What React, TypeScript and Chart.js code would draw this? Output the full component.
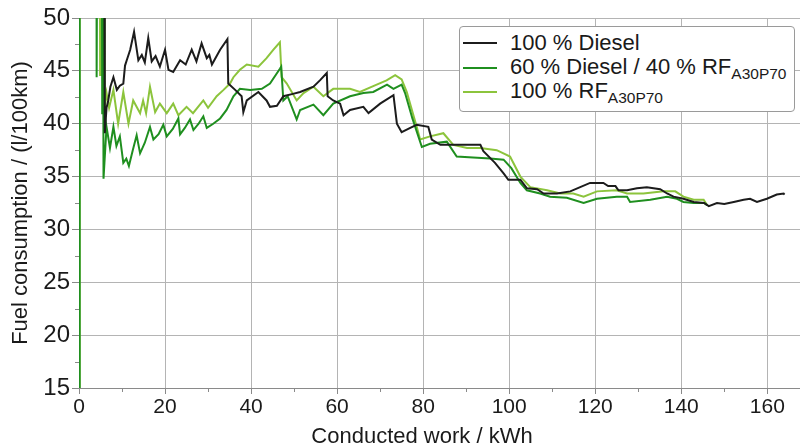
import React, { useEffect, useRef } from "react";
import { Chart, registerables } from "chart.js";
Chart.register(...registerables);

// ---- data ----
const seriesNames = ["100 % Diesel", "60 % Diesel / 40 % RF", "100 % RF"];
const seriesSubs = ["", "A30P70", "A30P70"];
const seriesColors = ["#1c1c1c", "#1f8f1f", "#8cc43c"];

const xTitle = "Conducted work / kWh";
const yTitle = "Fuel consumption / (l/100km)";
const xTicks = [0, 20, 40, 60, 80, 100, 120, 140, 160];
const xMinorTicks = [10, 30, 50, 70, 90, 110, 130, 150];
const yMinorTicks = [17.5, 22.5, 27.5, 32.5, 37.5, 42.5, 47.5];

const dieselX = [5.9, 6.0, 6.4, 6.8, 7.3, 8.0, 8.8, 9.5, 10.3, 10.7, 11.1, 11.9, 12.8, 13.8, 14.6, 15.3, 16.1, 16.9, 17.8, 18.8, 20.0, 20.8, 21.9, 23.5, 24.8, 26.2, 27.3, 28.5, 29.7, 30.3, 30.9, 32.8, 34.5, 34.7, 36.3, 37.8, 38.2, 39.0, 41.7, 43.6, 44.4, 46.0, 47.5, 49.5, 51.4, 54.5, 56.0, 57.6, 57.8, 59.1, 60.7, 61.5, 63.0, 66.1, 67.3, 70.0, 73.1, 73.9, 75.0, 77.0, 78.5, 81.2, 82.0, 84.0, 93.3, 94.0, 96.7, 98.7, 99.8, 102.6, 104.1, 106.5, 108.0, 111.1, 114.2, 116.5, 118.8, 121.9, 123.0, 124.7, 125.4, 127.4, 129.7, 132.0, 135.1, 136.7, 138.2, 140.5, 142.9, 145.3, 146.4, 148.3, 150.0, 152.2, 154.5, 156.0, 157.6, 159.9, 162.2, 163.8, 164.0];
const dieselY = [52, 39.1, 41.5, 42.2, 43.5, 44.4, 43.2, 43.6, 43.8, 45.5, 46.0, 47.0, 48.7, 46.0, 46.5, 45.8, 48.1, 45.9, 46.4, 45.4, 47.0, 45.1, 44.9, 46.0, 45.6, 47.0, 45.9, 47.6, 46.2, 46.5, 45.6, 47.0, 48.0, 43.8, 43.2, 42.6, 41.1, 42.2, 43.0, 42.2, 41.6, 41.7, 42.6, 42.8, 43.0, 43.5, 44.1, 44.8, 42.6, 42.2, 41.9, 40.8, 41.3, 41.6, 41.0, 41.9, 42.7, 40.0, 39.2, 39.6, 39.9, 39.7, 38.5, 38.0, 38.0, 37.4, 36.3, 35.3, 34.7, 34.7, 33.9, 33.8, 33.4, 33.4, 33.6, 34.0, 34.4, 34.4, 34.1, 34.1, 33.7, 33.7, 33.9, 34.0, 33.8, 33.4, 33.1, 32.9, 32.6, 32.5, 32.2, 32.5, 32.4, 32.6, 32.8, 32.9, 32.6, 32.9, 33.3, 33.4, 33.3];

const blendX = [0, 0.15, 4.0, 4.1, 4.4, 5.2, 5.4, 5.5, 5.7, 6.4, 7.2, 8.0, 8.7, 9.5, 10.3, 11.0, 11.6, 12.5, 13.4, 14.2, 15.3, 16.5, 17.3, 18.5, 19.6, 20.4, 21.8, 23.1, 23.5, 24.6, 25.8, 26.6, 27.8, 28.9, 29.7, 31.2, 32.8, 34.3, 35.9, 37.4, 39.8, 42.5, 44.4, 46.7, 47.0, 47.5, 48.5, 50.6, 51.4, 54.5, 56.8, 59.1, 63.0, 66.1, 68.4, 71.6, 73.1, 75.0, 75.8, 77.5, 79.7, 81.6, 85.5, 87.8, 91.6, 95.6, 98.7, 100.5, 102.6, 104.1, 107.2, 109.5, 113.4, 117.3, 120.4, 125.0, 127.4, 128.1, 132.8, 136.7, 139.0, 140.5, 142.9, 145.3, 146.0];
const blendY = [5, 80, 80, 44.4, 80, 80, 41.0, 70, 34.8, 39.7, 37.7, 39.7, 37.9, 38.8, 36.3, 36.7, 36.0, 37.5, 38.9, 37.2, 38.2, 39.7, 38.5, 39.0, 39.9, 38.8, 39.5, 40.5, 39.0, 39.6, 40.4, 39.4, 40.0, 40.7, 39.6, 40.0, 40.5, 41.3, 42.6, 43.3, 43.2, 43.3, 43.8, 45.2, 45.4, 42.2, 42.6, 40.4, 41.3, 41.8, 40.8, 41.9, 42.6, 42.9, 43.0, 43.7, 43.3, 43.7, 42.9, 40.5, 37.8, 38.1, 38.3, 36.9, 36.8, 36.7, 36.6, 35.8, 34.4, 33.7, 33.4, 33.1, 33.0, 32.5, 32.9, 33.1, 33.1, 32.6, 32.8, 33.1, 32.9, 32.6, 32.5, 32.5, 32.3];

const rfX = [0, 0.15, 4.8, 4.9, 5.1, 5.7, 6.0, 6.4, 7.0, 8.0, 9.1, 10.3, 11.5, 12.6, 14.2, 14.9, 15.6, 16.5, 17.7, 18.8, 20.4, 21.9, 23.1, 25.0, 26.5, 28.9, 30.0, 32.0, 33.6, 35.1, 35.9, 37.4, 39.0, 41.7, 43.6, 45.2, 46.7, 47.1, 48.3, 50.6, 52.2, 54.5, 56.8, 59.1, 63.0, 65.3, 69.2, 71.5, 73.5, 75.0, 76.2, 78.5, 79.3, 81.6, 84.7, 87.0, 90.2, 93.3, 97.1, 100.2, 102.6, 104.9, 108.8, 111.9, 114.9, 117.3, 120.4, 125.0, 127.4, 131.2, 135.9, 138.6, 140.5, 142.9, 145.2, 146.0];
const rfY = [5, 80, 80, 44.6, 80, 80, 41.6, 42.9, 41.5, 43.2, 40.0, 43.0, 40.0, 42.2, 41.0, 42.2, 41.0, 43.5, 41.1, 41.9, 41.0, 41.9, 40.8, 41.6, 41.0, 42.2, 41.5, 42.6, 43.2, 43.8, 44.4, 45.1, 45.6, 45.4, 46.2, 47.0, 47.7, 44.4, 43.8, 42.2, 42.9, 43.5, 42.6, 43.3, 43.3, 43.0, 43.7, 44.1, 44.6, 44.2, 43.0, 39.7, 38.5, 38.8, 39.1, 38.0, 37.7, 37.7, 37.5, 36.9, 35.0, 34.0, 33.7, 33.4, 33.4, 33.1, 33.6, 33.7, 33.4, 33.4, 33.6, 33.6, 33.1, 32.8, 32.8, 32.3];

const seriesX = [dieselX, blendX, rfX];
const seriesY = [dieselY, blendY, rfY];

const FONT = "'Liberation Sans', Arial, sans-serif";

const extrasPlugin = {
  id: "extras",
  afterDraw(chart: any) {
    const { ctx, chartArea, scales } = chart;
    const xs = scales.x;
    const ys = scales.y;
    ctx.save();
    ctx.strokeStyle = "#8a8a8a";
    ctx.lineWidth = 1;
    ctx.beginPath();
    xMinorTicks.forEach((v) => {
      const px = Math.round(xs.getPixelForValue(v)) + 0.5;
      ctx.moveTo(px, chartArea.bottom);
      ctx.lineTo(px, chartArea.bottom + 4);
    });
    yMinorTicks.forEach((v) => {
      const py = Math.round(ys.getPixelForValue(v)) + 0.5;
      ctx.moveTo(chartArea.left - 4, py);
      ctx.lineTo(chartArea.left, py);
    });
    ctx.stroke();
    // x axis title
    ctx.fillStyle = "#1a1a1a";
    ctx.font = `22px ${FONT}`;
    ctx.textAlign = "center";
    ctx.textBaseline = "alphabetic";
    ctx.fillText(xTitle, 422, 443);
    ctx.restore();
  },
};

export default function App() {
  const ref = useRef<HTMLCanvasElement | null>(null);

  useEffect(() => {
    if (!ref.current) return;
    const chart = new Chart(ref.current, {
      type: "line",
      data: {
        datasets: seriesNames.map((name, i) => ({
          label: name + seriesSubs[i],
          data: seriesX[i].map((x, j) => ({ x, y: seriesY[i][j] })),
          borderColor: seriesColors[i],
          backgroundColor: seriesColors[i],
          borderWidth: 2,
          pointRadius: 0,
          tension: 0,
          fill: false,
        })),
      },
      options: {
        animation: false,
        responsive: false,
        devicePixelRatio: 1,
        layout: { padding: { top: 18, right: 0, left: 0, bottom: 0 } },
        plugins: { legend: { display: false }, tooltip: { enabled: false } },
        scales: {
          x: {
            type: "linear",
            min: 0,
            max: 167.6,
            afterBuildTicks: (s: any) => {
              s.ticks = xTicks.map((v) => ({ value: v }));
            },
            afterFit: (s: any) => {
              s.height = 59;
            },
            grid: { color: "#b4b4b4", tickLength: 6, tickColor: "#8a8a8a" },
            border: { color: "#8a8a8a" },
            ticks: { font: { family: FONT, size: 21 }, color: "#1a1a1a", padding: 1, maxRotation: 0 },
            title: { display: false, text: xTitle },
          },
          y: {
            type: "linear",
            min: 15,
            max: 50,
            afterFit: (s: any) => {
              s.width = 79;
            },
            grid: { color: "#b4b4b4", tickLength: 7, tickColor: "#8a8a8a" },
            border: { color: "#8a8a8a" },
            ticks: { stepSize: 5, font: { family: FONT, size: 24 }, color: "#1a1a1a", padding: 2 },
            title: {
              display: true,
              text: yTitle,
              font: { family: FONT, size: 22 },
              color: "#1a1a1a",
              padding: { top: 8, bottom: 0 },
            },
          },
        },
      },
      plugins: [extrasPlugin],
    });
    return () => chart.destroy();
  }, []);

  return (
    <div style={{ position: "fixed", left: 0, top: 0, width: 800, height: 447, background: "#fff" }}>
      <canvas ref={ref} width={800} height={447} style={{ display: "block", width: 800, height: 447 }} />
      <div
        style={{
          position: "absolute",
          left: 459,
          top: 26,
          width: 336,
          height: 86,
          boxSizing: "border-box",
          border: "1px solid #9a9a9a",
          borderRadius: 4,
          background: "#fff",
          fontFamily: FONT,
          fontSize: 22,
          color: "#1a1a1a",
        }}
      >
        {seriesNames.map((name, i) => (
          <div
            key={i}
            style={{ position: "absolute", left: 3, top: 4 + i * 24.5, height: 24, display: "flex", alignItems: "center", whiteSpace: "nowrap" }}
          >
            <span style={{ display: "inline-block", width: 34, height: 0, borderTop: `2px solid ${seriesColors[i]}`, marginRight: 13 }} />
            <span style={{ lineHeight: "24px" }}>
              {name}
              {seriesSubs[i] ? (
                <span style={{ fontSize: 15.5, position: "relative", top: 5 }}>{seriesSubs[i]}</span>
              ) : null}
            </span>
          </div>
        ))}
      </div>
    </div>
  );
}
